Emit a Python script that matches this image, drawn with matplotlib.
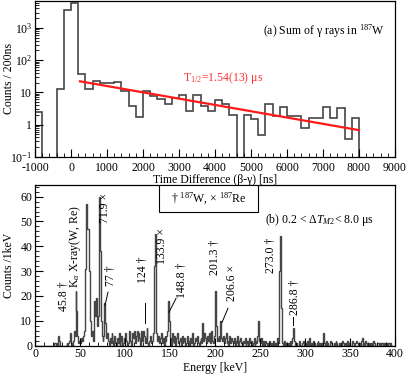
import numpy as np
from matplotlib import pyplot as plt
from matplotlib.patches import Rectangle
from matplotlib.ticker import MultipleLocator, LogLocator, NullFormatter

plt.rcParams["font.family"] = ["Liberation Serif", "DejaVu Serif"]
plt.rcParams["mathtext.fontset"] = "custom"
plt.rcParams["mathtext.rm"] = "Liberation Serif"
plt.rcParams["mathtext.it"] = "Liberation Serif:italic"
plt.rcParams["font.size"] = 8.5
plt.rcParams["axes.unicode_minus"] = False

# (a) beta-gamma time difference, 200 ns bins starting at -1000 ns
time_edges = np.arange(-1000, 8001, 200)
time_counts = [
    2.4, 0, 0, 13, 3500, 5800, 36, 12.4, 22, 20,
    19, 21, 11, 3.7, 1.7, 11, 7.7, 6, 4.4, 6.5,
    8, 2.6, 8.3, 3.8, 2.7, 5.9, 4.4, 1.95, 0, 2.0,
    1.5, 0.46, 4.2, 1.9, 3.5, 1.9, 1.9, 0.8, 1.55, 1.55,
    3.4, 1.55, 3.2, 0.36, 1.55,
]
fit_range = (250, 8000)
fit_amplitude = 24.6
fit_half_life = 1540.0

# (b) gamma energy spectrum, 1 keV bins from 0 to 400 keV
energy_edges = np.arange(0, 401, 1)
energy_counts = (
    [0] * 20
    + [0, 1, 1, 0, 1, 0, 4, 2, 0, 0, 0, 0, 0, 0, 0, 1, 0, 1, 2, 5]
    + [1, 0, 2, 6, 4, 22, 14, 4, 1, 2, 1, 3, 2, 4, 6, 8, 31, 57, 47, 47]
    + [30, 10, 4, 6, 2, 3, 18, 12, 19, 8, 12, 60, 38, 10, 4, 2, 4, 17, 9, 3]
    + [5, 2, 0, 3, 1, 5, 2, 0, 4, 1, 0, 3, 1, 5, 0, 2, 4, 0, 1, 3]
    + [5, 2, 0, 1, 4, 6, 2, 0, 5, 3, 6, 1, 4, 6, 2, 5, 3, 0, 6, 2]
    + [6, 4, 1, 3, 7, 1, 0, 2, 4, 1, 2, 5, 32, 45, 20, 5, 2, 4, 1, 3]
    + [5, 1, 3, 0, 4, 2, 4, 6, 18, 10, 3, 0, 5, 2, 1, 4, 0, 3, 5, 1]
    + [2, 3, 0, 4, 1, 2, 3, 0, 1, 4, 2, 0, 3, 1, 2, 5, 0, 1, 3, 2]
    + [4, 1, 0, 2, 3, 1, 9, 2, 5, 3, 1, 4, 2, 5, 3, 1, 6, 2, 1, 4]
    + [22, 8, 2, 3, 4, 2, 10, 3, 2, 4, 1, 3, 5, 1, 2, 0, 4, 1, 3, 2]
    + [1, 3, 0, 2, 1, 4, 0, 2, 3, 1, 0, 2, 1, 3, 0, 1, 2, 0, 3, 1]
    + [2, 0, 1, 3, 0, 2, 1, 4, 10, 2, 1, 3, 0, 2, 1, 0, 2, 1, 0, 1]
    + [2, 0, 1, 0, 1, 2, 0, 1, 0, 3, 1, 30, 44, 15, 3, 1, 0, 2, 0, 1]
    + [0, 1, 0, 2, 0, 1, 3, 7, 2, 0, 1, 0, 0, 2, 1, 0, 0, 1, 2, 0]
    + [1, 0, 2, 0, 1, 3, 0, 1, 0, 2, 1, 0, 0, 1, 2, 0, 1, 0, 1, 0]
    + [5, 1, 0, 2, 0, 1, 0, 0, 2, 1, 0, 0, 1, 0, 2, 1, 0, 0, 1, 0]
    + [0, 2, 1, 0, 0, 1, 0, 2, 0, 1, 0, 0, 2, 1, 0, 0, 1, 2, 1, 0]
    + [1, 0, 2, 3, 0, 1, 0, 2, 1, 0, 0, 1, 0, 1, 1, 0, 2, 1, 0, 0]
    + [1, 1, 0, 1, 0, 1, 1, 0, 1, 0, 1, 0, 1, 1, 0, 1, 0, 0, 0, 0]
)

# peak labels: text, x, y, optional leader line (x0, y0, x1, y1)
peak_labels = [
    ("45.8 \u2020", 32, 19.8, None),
    ("K$_{\\alpha}$ X-ray(W, Re)", 44.5, 39.7, None),
    ("71.9 \u00d7", 77.8, 55.5, None),
    ("77 \u2020", 84.4, 28.3, (81.1, 21.5, 77.8, 16.2)),
    ("124 \u2020", 120, 30.4, (122, 17, 122, 8.9)),
    ("133.9 \u00d7", 141, 40, None),
    ("148.8 \u2020", 163, 26.3, (156.7, 19, 148.9, 13.4)),
    ("201.3 \u2020", 200, 35.6, None),
    ("206.6 \u00d7", 219, 25.1, (214.4, 15, 207.8, 9.3)),
    ("273.0 \u2020", 262, 36.4, None),
    ("286.8 \u2020", 288, 19.4, (286.7, 11.3, 286.7, 8.1)),
]

LINE = "#454545"


def style_ticks(ax) -> None:
    ax.tick_params(which="both", direction="in", top=False, right=False)
    ax.tick_params(which="major", length=6, width=0.8, labelsize=8.5, pad=2)
    ax.tick_params(which="minor", length=3, width=0.6)
    for sp in ax.spines.values():
        sp.set_linewidth(0.9)


def plot_time(ax) -> None:
    counts = np.asarray(time_counts, dtype=float)
    floor = 1e-3
    counts = np.where(counts > 0, counts, floor)
    ax.stairs(counts, time_edges, baseline=floor, color=LINE, lw=1.2)

    t = np.linspace(fit_range[0], fit_range[1], 200)
    ax.plot(t, fit_amplitude * np.exp(-np.log(2) * t / fit_half_life), color="#ff1a1a", lw=1.6)

    ax.set_yscale("log")
    ax.set_xlim(-1000, 9000)
    ax.set_ylim(0.1, 10 ** 3.83)
    ax.set_yticks([0.1, 1, 10, 100, 1000])
    ax.set_yticklabels(["$10^{-1}$", "1", "10", "$10^{2}$", "$10^{3}$"])
    ax.yaxis.set_minor_locator(LogLocator(base=10, subs=np.arange(2, 10), numticks=20))
    ax.yaxis.set_minor_formatter(NullFormatter())
    ax.xaxis.set_major_locator(MultipleLocator(1000))
    ax.xaxis.set_minor_locator(MultipleLocator(200))
    style_ticks(ax)
    ax.tick_params(axis="x", which="major", pad=4)

    ax.set_xlabel("Time Difference (\u03b2-\u03b3) [ns]", labelpad=0)
    ax.set_ylabel("Counts / 200ns")
    ax.yaxis.set_label_coords(-0.055, 0.5)
    ax.text(0.972, 0.81, "(a) Sum of \u03b3 rays in $^{187}$W", transform=ax.transAxes,
            ha="right", va="center")
    ax.text(4220, 27, "T$_{1/2}$=1.54(13) \u03bcs", color="#ff3333", ha="center", va="center")


def plot_energy(ax) -> None:
    ax.stairs(energy_counts, energy_edges, baseline=0, color=LINE, lw=1.0)

    for text, x, y, leader in peak_labels:
        ax.text(x, y, text, rotation=90, ha="center", va="center")
        if leader is not None:
            ax.plot(leader[0::2], leader[1::2], color="black", lw=0.7)

    ax.set_xlim(0, 400)
    ax.set_ylim(0, 64.7)
    ax.xaxis.set_major_locator(MultipleLocator(50))
    ax.xaxis.set_minor_locator(MultipleLocator(10))
    ax.yaxis.set_major_locator(MultipleLocator(10))
    ax.yaxis.set_minor_locator(MultipleLocator(2))
    style_ticks(ax)

    ax.set_xlabel("Energy [keV]", labelpad=1)
    ax.set_ylabel("Counts /1keV")
    ax.yaxis.set_label_coords(-0.055, 0.5)
    ax.text(315.5, 50.6, "(b) 0.2 < $\\Delta \\mathit{T}_{M2}$< 8.0 \u03bcs", ha="center", va="center")
    ax.add_patch(Rectangle((138, 53.8), 110, 10.9, fc="white", ec="black", lw=0.8, zorder=3))
    ax.text(193, 59.2, "\u2020 $^{187}$W, \u00d7 $^{187}$Re", ha="center", va="center", zorder=4)


def main() -> None:
    fig = plt.figure(figsize=(4.07, 3.76), dpi=100)
    ax_top = fig.add_axes([0.086, 0.583, 0.8845, 0.414])
    ax_bot = fig.add_axes([0.086, 0.0811, 0.8845, 0.4269])

    plot_time(ax_top)
    plot_energy(ax_bot)

    fig.savefig("out.png", dpi=100)


if __name__ == "__main__":
    main()
